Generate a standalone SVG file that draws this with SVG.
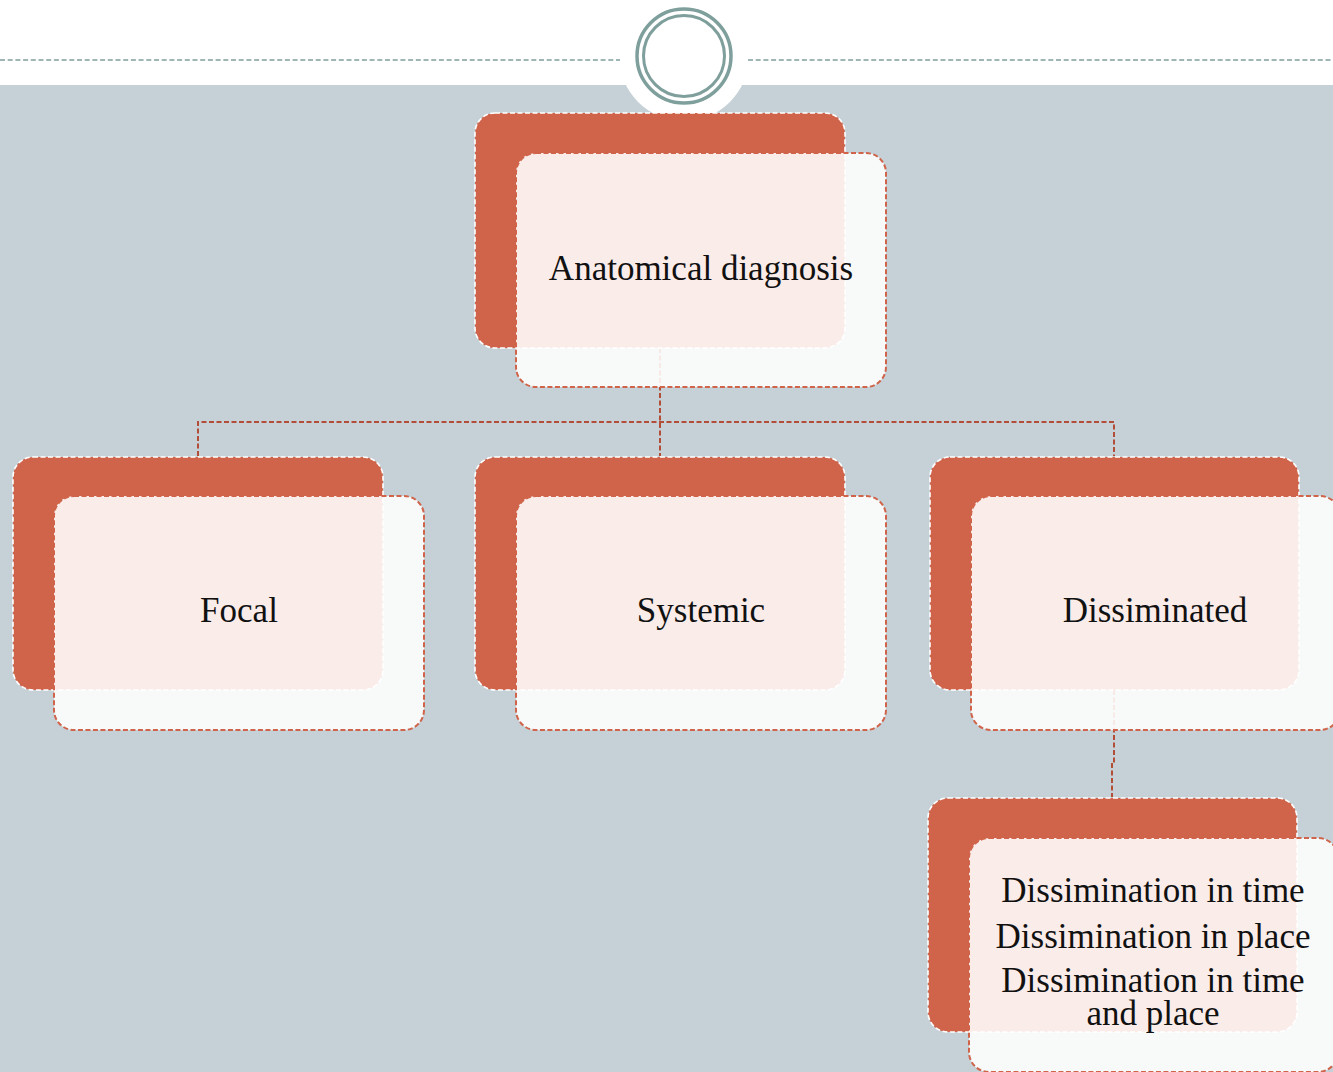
<svg xmlns="http://www.w3.org/2000/svg" width="1333" height="1072" viewBox="0 0 1333 1072">
<style>
.back{fill:#d0644a;stroke:#ffffff;stroke-width:1.6;stroke-dasharray:5 2.5}
.front{fill:#ffffff;fill-opacity:0.88;stroke:#d0644a;stroke-width:2;stroke-dasharray:5 2.5}
.conn{fill:none;stroke:#b24d36;stroke-width:2;stroke-dasharray:5 2.5}
.lbl{font-family:"Liberation Serif","Times New Roman",serif;font-size:35px;fill:#111111;text-anchor:middle}
</style>
<rect x="0" y="0" width="1333" height="1072" fill="#ffffff"/>
<rect x="0" y="85" width="1333" height="987" fill="#c5d1d7"/>
<circle cx="684" cy="56" r="65" fill="#ffffff"/>
<g id="header">
<line x1="0" y1="60" x2="620" y2="60" stroke="#7f9f9c" stroke-width="1.6" stroke-dasharray="5 2.7"/>
<line x1="748" y1="60" x2="1333" y2="60" stroke="#7f9f9c" stroke-width="1.6" stroke-dasharray="5 2.7"/>
<circle cx="684" cy="56" r="47" fill="none" stroke="#7f9f9c" stroke-width="3.5"/>
<circle cx="684" cy="56" r="40.5" fill="none" stroke="#7f9f9c" stroke-width="3"/>
</g>
<g id="connectors">
<path class="conn" d="M660 348 V456"/>
<path class="conn" d="M198 456 V422 H1114 V456"/>
<path class="conn" d="M1114 690 V763 H1112 V797"/>
</g>
<g id="node-anatomical">
<rect class="back" x="475" y="113" width="370" height="235" rx="20"/>
<rect class="front" x="516" y="153" width="370" height="234" rx="20"/>
<text class="lbl" x="701" y="280">Anatomical diagnosis</text>
</g>
<g id="node-focal">
<rect class="back" x="13" y="457" width="370" height="233" rx="20"/>
<rect class="front" x="54" y="496" width="370" height="234" rx="20"/>
<text class="lbl" x="239" y="622">Focal</text>
</g>
<g id="node-systemic">
<rect class="back" x="475" y="457" width="370" height="233" rx="20"/>
<rect class="front" x="516" y="496" width="370" height="234" rx="20"/>
<text class="lbl" x="701" y="622">Systemic</text>
</g>
<g id="node-dissiminated">
<rect class="back" x="930" y="457" width="369" height="233" rx="20"/>
<rect class="front" x="971" y="496" width="369" height="234" rx="20"/>
<text class="lbl" x="1155" y="622">Dissiminated</text>
</g>
<g id="node-dissimination">
<rect class="back" x="928" y="798" width="369" height="234" rx="20"/>
<rect class="front" x="969" y="838" width="369" height="234" rx="20"/>
<text class="lbl" x="1153" y="902">Dissimination in time</text>
<text class="lbl" x="1153" y="948">Dissimination in place</text>
<text class="lbl" x="1153" y="992">Dissimination in time</text>
<text class="lbl" x="1153" y="1025">and place</text>
</g>
</svg>
